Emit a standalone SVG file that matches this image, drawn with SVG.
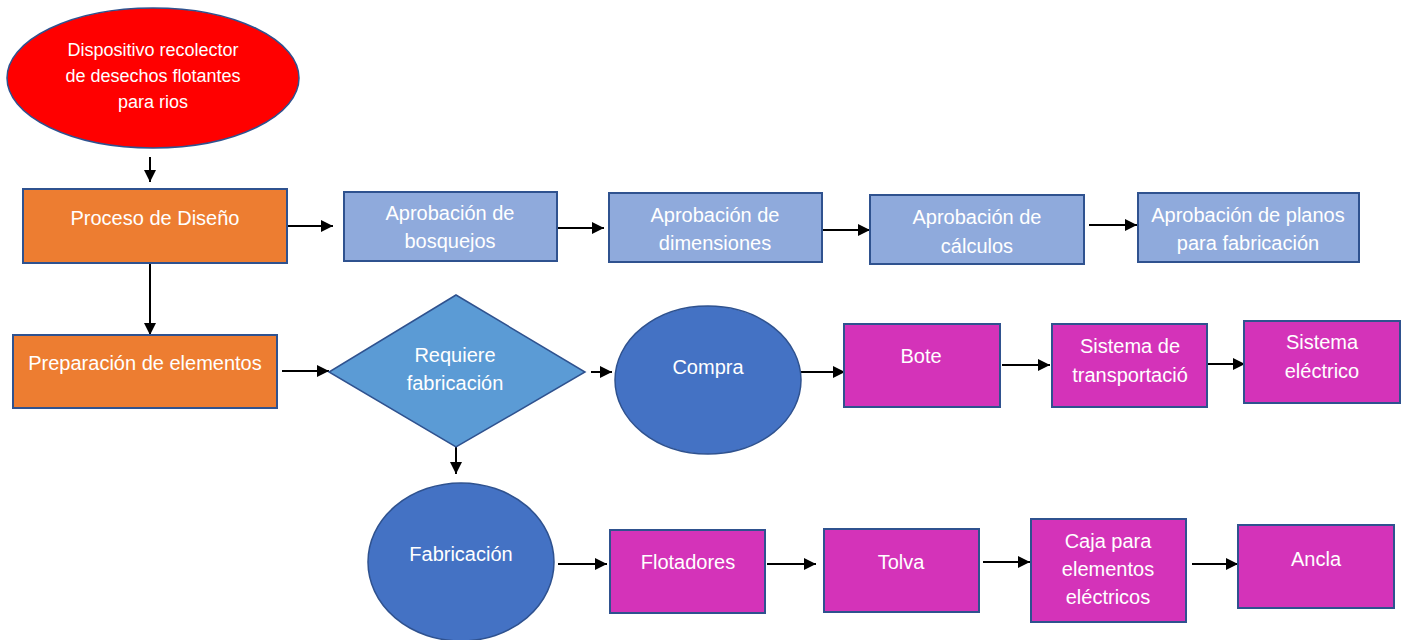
<svg xmlns="http://www.w3.org/2000/svg" width="1405" height="640" viewBox="0 0 1405 640">
  <style>
    .lbl { font-family: "Liberation Sans", Arial, sans-serif; font-size: 20px; fill: #FFFFFF; text-anchor: middle; }
    .small { font-size: 18px; }
    .edge { stroke: #000000; stroke-width: 2; fill: none; marker-end: url(#arrow); }
    .orange { fill: #ED7D31; stroke: #2F528F; stroke-width: 2; }
    .pale { fill: #8FAADC; stroke: #2F528F; stroke-width: 2; }
    .magenta { fill: #D433B9; stroke: #2F528F; stroke-width: 2; }
    .blue { fill: #4472C4; stroke: #2F528F; stroke-width: 1.5; }
  </style>
  <defs>
    <marker id="arrow" markerUnits="userSpaceOnUse" markerWidth="14" markerHeight="14" refX="12" refY="7" orient="auto">
      <path d="M0,1 L12,7 L0,13 Z" fill="#000000"/>
    </marker>
  </defs>
  <rect width="1405" height="640" fill="#FFFFFF"/>

  <!-- connectors -->
  <g id="connectors">
    <line class="edge" x1="150" y1="157" x2="150" y2="182"/>
    <line class="edge" x1="287" y1="226" x2="333" y2="226"/>
    <line class="edge" x1="557" y1="228" x2="604" y2="228"/>
    <line class="edge" x1="822" y1="230" x2="870" y2="230"/>
    <line class="edge" x1="1089" y1="225" x2="1137" y2="225"/>
    <line class="edge" x1="150" y1="263" x2="150" y2="335"/>
    <line class="edge" x1="282" y1="371" x2="329" y2="371"/>
    <line class="edge" x1="591" y1="372" x2="612" y2="372"/>
    <line class="edge" x1="801" y1="372" x2="845" y2="372"/>
    <line class="edge" x1="1002" y1="365" x2="1050" y2="365"/>
    <line class="edge" x1="1200" y1="364" x2="1245" y2="364"/>
    <line class="edge" x1="456" y1="447" x2="456" y2="474"/>
    <line class="edge" x1="558" y1="564" x2="607" y2="564"/>
    <line class="edge" x1="767" y1="564" x2="816" y2="564"/>
    <line class="edge" x1="983" y1="562" x2="1030" y2="562"/>
    <line class="edge" x1="1192" y1="564" x2="1238" y2="564"/>
  </g>

  <!-- row 1 -->
  <g id="dispositivo">
    <ellipse cx="153" cy="78" rx="146" ry="70" fill="#FF0000" stroke="#2F528F" stroke-width="1.5"/>
    <text class="lbl small" x="153" y="56">Dispositivo recolector</text>
    <text class="lbl small" x="153" y="82">de desechos flotantes</text>
    <text class="lbl small" x="153" y="108">para rios</text>
  </g>
  <g id="proceso-diseno">
    <rect class="orange" x="23" y="189" width="264" height="74"/>
    <text class="lbl" x="155" y="225">Proceso de Diseño</text>
  </g>
  <g id="aprob-bosquejos">
    <rect class="pale" x="344" y="192" width="213" height="69"/>
    <text class="lbl" x="450" y="220">Aprobación de</text>
    <text class="lbl" x="450" y="248">bosquejos</text>
  </g>
  <g id="aprob-dimensiones">
    <rect class="pale" x="609" y="193" width="213" height="69"/>
    <text class="lbl" x="715" y="222">Aprobación de</text>
    <text class="lbl" x="715" y="250">dimensiones</text>
  </g>
  <g id="aprob-calculos">
    <rect class="pale" x="870" y="195" width="214" height="69"/>
    <text class="lbl" x="977" y="224">Aprobación de</text>
    <text class="lbl" x="977" y="253">cálculos</text>
  </g>
  <g id="aprob-planos">
    <rect class="pale" x="1138" y="193" width="221" height="69"/>
    <text class="lbl" x="1248" y="222">Aprobación de planos</text>
    <text class="lbl" x="1248" y="250">para fabricación</text>
  </g>

  <!-- row 2 -->
  <g id="preparacion">
    <rect class="orange" x="13" y="335" width="264" height="73"/>
    <text class="lbl" x="145" y="370">Preparación de elementos</text>
  </g>
  <g id="requiere-fabricacion">
    <polygon points="456,295 585,372 456,447 329,372" fill="#5B9BD5" stroke="#2F528F" stroke-width="1.5"/>
    <text class="lbl" x="455" y="362">Requiere</text>
    <text class="lbl" x="455" y="390">fabricación</text>
  </g>
  <g id="compra">
    <ellipse class="blue" cx="708" cy="380" rx="93" ry="74"/>
    <text class="lbl" x="708" y="374">Compra</text>
  </g>
  <g id="bote">
    <rect class="magenta" x="844" y="324" width="156" height="83"/>
    <text class="lbl" x="921" y="363">Bote</text>
  </g>
  <g id="sistema-transportacion">
    <rect class="magenta" x="1052" y="324" width="155" height="83"/>
    <text class="lbl" x="1130" y="353">Sistema de</text>
    <text class="lbl" x="1130" y="382">transportació</text>
  </g>
  <g id="sistema-electrico">
    <rect class="magenta" x="1244" y="321" width="156" height="82"/>
    <text class="lbl" x="1322" y="349">Sistema</text>
    <text class="lbl" x="1322" y="378">eléctrico</text>
  </g>

  <!-- row 3 -->
  <g id="fabricacion">
    <ellipse class="blue" cx="461" cy="562" rx="93" ry="79"/>
    <text class="lbl" x="461" y="561">Fabricación</text>
  </g>
  <g id="flotadores">
    <rect class="magenta" x="610" y="530" width="155" height="83"/>
    <text class="lbl" x="688" y="569">Flotadores</text>
  </g>
  <g id="tolva">
    <rect class="magenta" x="824" y="529" width="155" height="83"/>
    <text class="lbl" x="901" y="569">Tolva</text>
  </g>
  <g id="caja">
    <rect class="magenta" x="1031" y="519" width="155" height="103"/>
    <text class="lbl" x="1108" y="548">Caja para</text>
    <text class="lbl" x="1108" y="576">elementos</text>
    <text class="lbl" x="1108" y="604">eléctricos</text>
  </g>
  <g id="ancla">
    <rect class="magenta" x="1238" y="525" width="156" height="83"/>
    <text class="lbl" x="1316" y="566">Ancla</text>
  </g>
</svg>
